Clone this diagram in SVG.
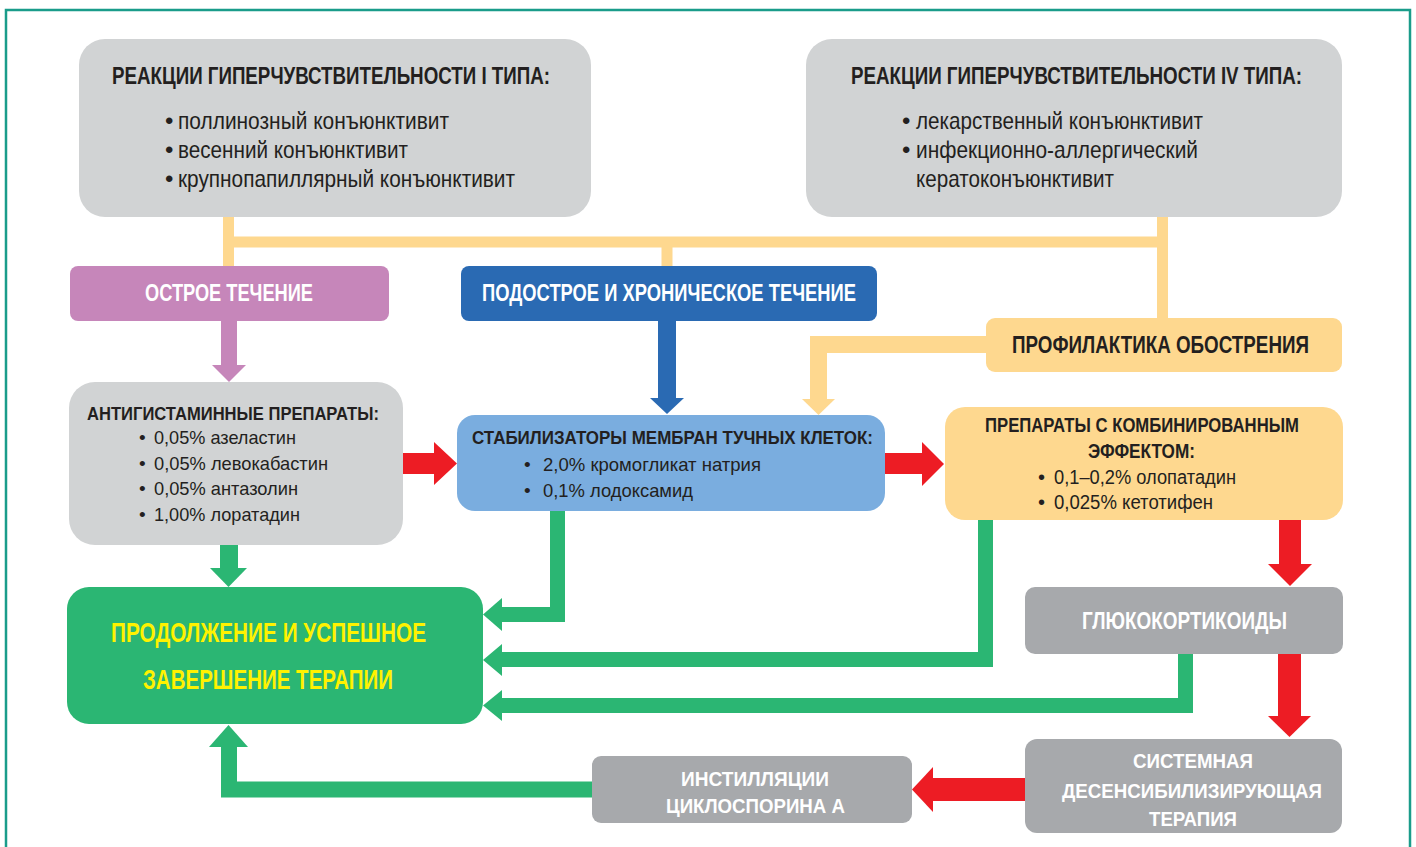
<svg xmlns="http://www.w3.org/2000/svg" width="1416" height="847" viewBox="0 0 1416 847">
<style>
.b{font-family:"Liberation Sans Narrow","Liberation Sans",Arial,sans-serif;font-weight:bold;}
.r{font-family:"Liberation Sans Narrow","Liberation Sans",Arial,sans-serif;font-weight:normal;}
.dk{fill:#231f20;}
.wh{fill:#ffffff;}
.yl{fill:#fff200;}
.gl{fill:#d1d3d4;}
.gd{fill:#a7a9ac;}
.yc{stroke:#fed88f;fill:none;}
.gc{stroke:#2bb673;fill:none;stroke-linejoin:miter;}
.rc{stroke:#ed1c24;fill:none;}
</style>
<rect x="0" y="0" width="1416" height="847" fill="#ffffff"/>
<rect x="6" y="10" width="1404" height="860" fill="none" stroke="#1a9c8a" stroke-width="2.5"/>

<g id="connectors">
  <path class="yc" stroke-width="11" d="M228.5,217 V266 M223,242 H1168 M667,242 V266 M1162.5,217 V318"/>
  <path d="M229,321 V366" stroke="#c686ba" stroke-width="16" fill="none"/>
  <polygon points="212,365 229,382 246,365" fill="#c686ba"/>
  <path d="M667,321 V399" stroke="#2a6ab3" stroke-width="18" fill="none"/>
  <polygon points="650,398 667,414 684,398" fill="#2a6ab3"/>
  <path class="yc" stroke-width="17" d="M987,344.5 H818.5 V400"/>
  <polygon points="802,399 818.5,415 835,399" fill="#fed88f"/>
  <path class="rc" stroke-width="21" d="M402,463.5 H435"/>
  <polygon points="434,442 457,463.5 434,485" fill="#ed1c24"/>
  <path class="rc" stroke-width="21" d="M884,463.5 H923"/>
  <polygon points="922,442 944,464 922,486" fill="#ed1c24"/>
  <path class="rc" stroke-width="22" d="M1290,519 V565"/>
  <polygon points="1268,564 1290,586 1312,564" fill="#ed1c24"/>
  <path class="rc" stroke-width="23" d="M1289.5,653 V717"/>
  <polygon points="1268,716 1289.5,737 1311,716" fill="#ed1c24"/>
  <path class="rc" stroke-width="23" d="M1026,789.5 H932"/>
  <polygon points="933,767 912,789.5 933,812" fill="#ed1c24"/>
  <path class="gc" stroke-width="18" d="M229,544 V569"/>
  <polygon points="210,568 228.5,587 247,568" fill="#2bb673"/>
  <path class="gc" stroke-width="15" d="M557.5,510 V614.5 H501"/>
  <polygon points="502,598 483,614.5 502,631" fill="#2bb673"/>
  <path class="gc" stroke-width="15" d="M985.5,519 V659.5 H501"/>
  <polygon points="502,644 483,660 502,676" fill="#2bb673"/>
  <path class="gc" stroke-width="15" d="M1185.5,653 V705.5 H501"/>
  <polygon points="502,690 483,705.5 502,721" fill="#2bb673"/>
  <path class="gc" stroke-width="16" d="M593,789.5 H229 V746"/>
  <polygon points="209,747 228.5,725 248,747" fill="#2bb673"/>
</g>

<g id="type1">
  <rect class="gl" x="79" y="39" width="512" height="178" rx="26"/>
  <text class="b dk" x="112" y="84" font-size="24" textLength="438" lengthAdjust="spacingAndGlyphs">РЕАКЦИИ ГИПЕРЧУВСТВИТЕЛЬНОСТИ I ТИПА:</text>
  <text class="r dk" x="165" y="129" font-size="24">•</text>
  <text class="r dk" x="178" y="129" font-size="24" textLength="271" lengthAdjust="spacingAndGlyphs">поллинозный конъюнктивит</text>
  <text class="r dk" x="165" y="158" font-size="24">•</text>
  <text class="r dk" x="178" y="158" font-size="24" textLength="230" lengthAdjust="spacingAndGlyphs">весенний конъюнктивит</text>
  <text class="r dk" x="165" y="187" font-size="24">•</text>
  <text class="r dk" x="178" y="187" font-size="24" textLength="337" lengthAdjust="spacingAndGlyphs">крупнопапиллярный конъюнктивит</text>
</g>

<g id="type4">
  <rect class="gl" x="806" y="39" width="536" height="178" rx="26"/>
  <text class="b dk" transform="translate(1076.5,84) scale(0.8,1)" x="0" y="0" font-size="24" text-anchor="middle" textLength="564" lengthAdjust="spacingAndGlyphs">РЕАКЦИИ ГИПЕРЧУВСТВИТЕЛЬНОСТИ IV ТИПА:</text>
  <text class="r dk" x="902" y="129" font-size="24">•</text>
  <text class="r dk" x="916" y="129" font-size="24" textLength="287" lengthAdjust="spacingAndGlyphs">лекарственный конъюнктивит</text>
  <text class="r dk" x="902" y="158" font-size="24">•</text>
  <text class="r dk" x="916" y="158" font-size="24" textLength="282" lengthAdjust="spacingAndGlyphs">инфекционно-аллергический</text>
  <text class="r dk" x="916" y="187" font-size="24" textLength="198" lengthAdjust="spacingAndGlyphs">кератоконъюнктивит</text>
</g>

<g id="acute">
  <rect x="70" y="266" width="319" height="55" rx="8" fill="#c686ba"/>
  <text class="b wh" x="145" y="301" font-size="24" textLength="168" lengthAdjust="spacingAndGlyphs">ОСТРОЕ ТЕЧЕНИЕ</text>
</g>

<g id="chronic">
  <rect x="461" y="266" width="416" height="55" rx="8" fill="#2a6ab3"/>
  <text class="b wh" x="482" y="301" font-size="24" textLength="374" lengthAdjust="spacingAndGlyphs">ПОДОСТРОЕ И ХРОНИЧЕСКОЕ ТЕЧЕНИЕ</text>
</g>

<g id="prophylaxis">
  <rect x="986" y="318" width="356" height="54" rx="9" fill="#fed88f"/>
  <text class="b dk" x="1012" y="353" font-size="24" textLength="297" lengthAdjust="spacingAndGlyphs">ПРОФИЛАКТИКА ОБОСТРЕНИЯ</text>
</g>

<g id="antihistamines">
  <rect class="gl" x="69" y="382" width="334" height="163" rx="26"/>
  <text class="b dk" x="87" y="420" font-size="19" textLength="292" lengthAdjust="spacingAndGlyphs">АНТИГИСТАМИННЫЕ ПРЕПАРАТЫ:</text>
  <text class="r dk" x="139" y="444" font-size="19">•</text>
  <text class="r dk" x="154" y="444" font-size="19" textLength="142" lengthAdjust="spacingAndGlyphs">0,05% азеластин</text>
  <text class="r dk" x="139" y="470" font-size="19">•</text>
  <text class="r dk" x="154" y="470" font-size="19" textLength="174" lengthAdjust="spacingAndGlyphs">0,05% левокабастин</text>
  <text class="r dk" x="139" y="495" font-size="19">•</text>
  <text class="r dk" x="154" y="495" font-size="19" textLength="144" lengthAdjust="spacingAndGlyphs">0,05% антазолин</text>
  <text class="r dk" x="139" y="521" font-size="19">•</text>
  <text class="r dk" x="154" y="521" font-size="19" textLength="146" lengthAdjust="spacingAndGlyphs">1,00% лоратадин</text>
</g>

<g id="stabilizers">
  <rect x="457" y="415" width="428" height="96" rx="18" fill="#7aaddf"/>
  <text class="b dk" x="472" y="444" font-size="19" textLength="401" lengthAdjust="spacingAndGlyphs">СТАБИЛИЗАТОРЫ МЕМБРАН ТУЧНЫХ КЛЕТОК:</text>
  <text class="r dk" x="524" y="471" font-size="19">•</text>
  <text class="r dk" x="543" y="471" font-size="19" textLength="218" lengthAdjust="spacingAndGlyphs">2,0% кромогликат натрия</text>
  <text class="r dk" x="524" y="497" font-size="19">•</text>
  <text class="r dk" x="543" y="497" font-size="19" textLength="150" lengthAdjust="spacingAndGlyphs">0,1% лодоксамид</text>
</g>

<g id="combined">
  <rect x="945" y="407" width="398" height="113" rx="20" fill="#fed88f"/>
  <text class="b dk" x="985" y="432" font-size="20" textLength="314" lengthAdjust="spacingAndGlyphs">ПРЕПАРАТЫ С КОМБИНИРОВАННЫМ</text>
  <text class="b dk" x="1088" y="458" font-size="20" textLength="107" lengthAdjust="spacingAndGlyphs">ЭФФЕКТОМ:</text>
  <text class="r dk" x="1038" y="484" font-size="20">•</text>
  <text class="r dk" x="1054" y="484" font-size="20" textLength="182" lengthAdjust="spacingAndGlyphs">0,1–0,2% олопатадин</text>
  <text class="r dk" x="1038" y="509" font-size="20">•</text>
  <text class="r dk" x="1054" y="509" font-size="20" textLength="159" lengthAdjust="spacingAndGlyphs">0,025% кетотифен</text>
</g>

<g id="glucocorticoids">
  <rect class="gd" x="1025" y="587" width="318" height="67" rx="10"/>
  <text class="b wh" x="1082" y="629" font-size="24" textLength="205" lengthAdjust="spacingAndGlyphs">ГЛЮКОКОРТИКОИДЫ</text>
</g>

<g id="continuation">
  <rect x="67" y="587" width="416" height="137" rx="22" fill="#2bb673"/>
  <text class="b yl" x="111" y="642" font-size="28" textLength="315" lengthAdjust="spacingAndGlyphs">ПРОДОЛЖЕНИЕ И УСПЕШНОЕ</text>
  <text class="b yl" x="143" y="689" font-size="28" textLength="250" lengthAdjust="spacingAndGlyphs">ЗАВЕРШЕНИЕ ТЕРАПИИ</text>
</g>

<g id="systemic">
  <rect class="gd" x="1025" y="739" width="317" height="94" rx="12"/>
  <text class="b wh" x="1133" y="768" font-size="21" textLength="120" lengthAdjust="spacingAndGlyphs">СИСТЕМНАЯ</text>
  <text class="b wh" x="1062" y="798" font-size="21" textLength="260" lengthAdjust="spacingAndGlyphs">ДЕСЕНСИБИЛИЗИРУЮЩАЯ</text>
  <text class="b wh" x="1149" y="826" font-size="21" textLength="88" lengthAdjust="spacingAndGlyphs">ТЕРАПИЯ</text>
</g>

<g id="cyclosporin">
  <rect class="gd" x="592" y="756" width="320" height="67" rx="9"/>
  <text class="b wh" x="681" y="786" font-size="21" textLength="148" lengthAdjust="spacingAndGlyphs">ИНСТИЛЛЯЦИИ</text>
  <text class="b wh" x="666" y="813" font-size="21" textLength="179" lengthAdjust="spacingAndGlyphs">ЦИКЛОСПОРИНА А</text>
</g>
</svg>
